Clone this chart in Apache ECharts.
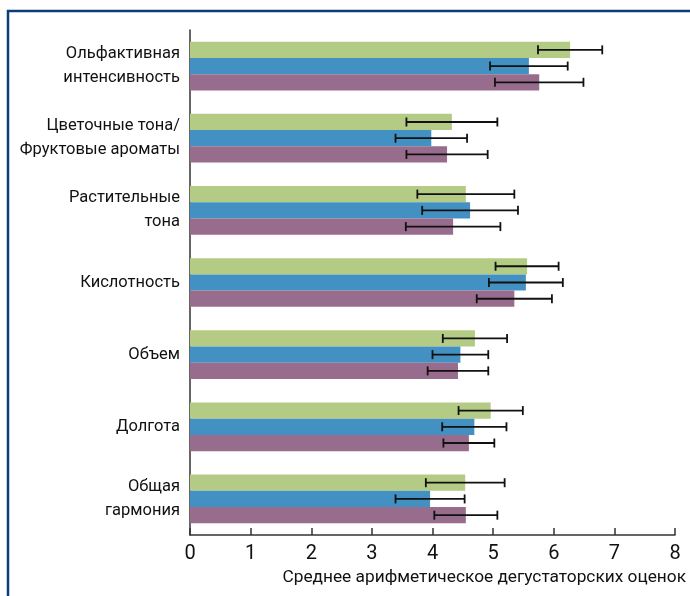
<!DOCTYPE html>
<html>
<head>
<meta charset="utf-8">
<style>
  html, body { margin: 0; padding: 0; background: #fff; }
  #chart { width: 690px; height: 596px; }
</style>
<script src="https://cdn.jsdelivr.net/npm/echarts@6/dist/echarts.min.js"></script>
</head>
<body>
<div id="chart"></div>
<script>
// Sensory attributes (top to bottom)
const categories = [
  'Ольфактивная\nинтенсивность',
  'Цветочные тона/\nФруктовые ароматы',
  'Растительные\nтона',
  'Кислотность',
  'Объем',
  'Долгота',
  'Общая\nгармония'
];

// Mean scores per sample
const greenMeans  = [6.27, 4.32, 4.55, 5.56, 4.70, 4.96, 4.54];
const blueMeans   = [5.59, 3.98, 4.62, 5.54, 4.46, 4.69, 3.96];
const purpleMeans = [5.76, 4.24, 4.34, 5.35, 4.42, 4.60, 4.55];

// Error half-widths (±) per sample
const greenErr  = [0.53, 0.75, 0.80, 0.52, 0.53, 0.53, 0.65];
const blueErr   = [0.64, 0.59, 0.79, 0.61, 0.46, 0.53, 0.57];
const purpleErr = [0.73, 0.67, 0.78, 0.62, 0.50, 0.42, 0.52];

const xTicks = [0, 1, 2, 3, 4, 5, 6, 7, 8];
const xTitle = 'Среднее арифметическое дегустаторских оценок';

const COLORS = ['#b4cb85', '#4391c3', '#976c8d'];
const GAP = 0.325;
const FONT = 'Roboto, "Liberation Sans", sans-serif';

const groups = [
  { means: greenMeans, err: greenErr },
  { means: blueMeans, err: blueErr },
  { means: purpleMeans, err: purpleErr }
];

function errorSeries(idx) {
  const g = groups[idx];
  const data = g.means.map((m, i) => [i, m - g.err[i], m + g.err[i]]);
  return {
    type: 'custom',
    z: 5,
    encode: { y: 0, x: [1, 2] },
    data: data,
    renderItem: function (params, api) {
      const cat = api.value(0);
      const lo = api.coord([api.value(1), cat]);
      const hi = api.coord([api.value(2), cat]);
      const band = api.size([0, 1])[1];
      const groupW = band * (1 - GAP);
      const bw = groupW / groups.length;
      const y = lo[1] - groupW / 2 + bw * (idx + 0.5);
      const cap = 4.5;
      const st = { stroke: '#111', lineWidth: 1.8 };
      return {
        type: 'group',
        children: [
          { type: 'line', shape: { x1: lo[0], y1: y, x2: hi[0], y2: y }, style: st },
          { type: 'line', shape: { x1: lo[0], y1: y - cap, x2: lo[0], y2: y + cap }, style: st },
          { type: 'line', shape: { x1: hi[0], y1: y - cap, x2: hi[0], y2: y + cap }, style: st }
        ]
      };
    }
  };
}

const chart = echarts.init(document.getElementById('chart'), null, { renderer: 'canvas' });

chart.setOption({
  animation: false,
  backgroundColor: '#fff',
  grid: { left: 190, right: 15, top: 30, bottom: 61, containLabel: false, outerBoundsMode: 'none' },
  xAxis: {
    type: 'value',
    min: xTicks[0],
    max: xTicks[xTicks.length - 1],
    interval: 1,
    axisLine: { show: true, lineStyle: { color: '#333', width: 1.5 } },
    axisTick: { show: true, inside: true, length: 7, lineStyle: { color: '#333', width: 1.5 } },
    splitLine: { show: false },
    axisLabel: { fontFamily: FONT, fontSize: 20, color: '#111', margin: 9 }
  },
  yAxis: {
    type: 'category',
    inverse: true,
    data: categories,
    axisLine: { show: true, lineStyle: { color: '#333', width: 1.5 } },
    axisTick: { show: false },
    axisLabel: {
      fontFamily: FONT, fontSize: 16.5, color: '#111', margin: 10,
      lineHeight: 24, align: 'right'
    }
  },
  graphic: [
    {
      type: 'rect',
      shape: { x: 8, y: 11, width: 760, height: 700 },
      style: { fill: 'none', stroke: '#0b3d78', lineWidth: 2.5 },
      silent: true
    },
    {
      type: 'text',
      x: 686, y: 578,
      style: {
        text: xTitle, fontFamily: FONT, fontSize: 17.3, fill: '#111',
        align: 'right', verticalAlign: 'middle'
      },
      silent: true
    }
  ],
  series: [
    { type: 'bar', data: greenMeans, itemStyle: { color: COLORS[0] }, barGap: '0%', barCategoryGap: (GAP * 100) + '%' },
    { type: 'bar', data: blueMeans, itemStyle: { color: COLORS[1] }, barGap: '0%', barCategoryGap: (GAP * 100) + '%' },
    { type: 'bar', data: purpleMeans, itemStyle: { color: COLORS[2] }, barGap: '0%', barCategoryGap: (GAP * 100) + '%' },
    errorSeries(0),
    errorSeries(1),
    errorSeries(2)
  ]
});
</script>
</body>
</html>
